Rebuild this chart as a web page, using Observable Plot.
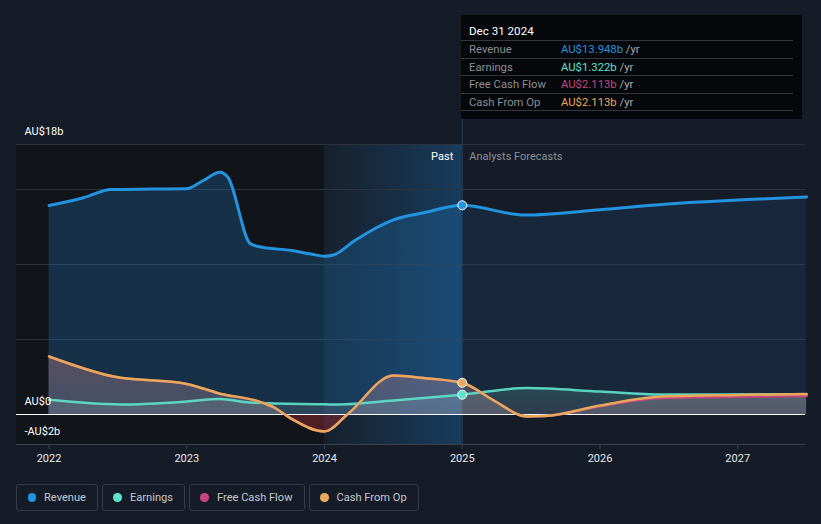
<!DOCTYPE html>
<html>
<head>
<meta charset="utf-8">
<script src="https://cdn.jsdelivr.net/npm/d3@7"></script>
<script src="https://cdn.jsdelivr.net/npm/@observablehq/plot@0.6"></script>
<style>
  html, body { margin: 0; padding: 0; background: #161c27; }
  body { width: 821px; height: 524px; overflow: hidden; font-family: Roboto, "Noto Sans", sans-serif; }
  #wrap { position: relative; width: 821px; height: 524px; }
  #chart { position: absolute; left: 0; top: 0; }
  #tip { position: absolute; left: 461px; top: 15px; width: 341px; height: 104px; background: #05070a; box-sizing: border-box; padding: 0 9px 0 0; }
  #tip .title { color: #fff; font-size: 11.6px; height: 25px; line-height: 32px; border-bottom: 1px solid #33373d; padding-left: 8px; }
  #tip .row { height: 16.6px; line-height: 17.5px; font-size: 11.3px; border-bottom: 1px solid #33373d; display: flex; padding-left: 8px; }
  #tip .lab { color: #8a8f96; width: 92px; }
  #tip .val span { color: #a9adb3; }
  #legend { position: absolute; left: 16px; top: 484px; display: flex; gap: 4px; }
  .item { height: 27px; box-sizing: border-box; border: 1px solid #363c47; border-radius: 3px; display: flex; align-items: center; padding: 0 11px 0 10.5px; color: #c5c8cd; font-size: 11.1px; }
  .dot { width: 8.5px; height: 8.5px; border-radius: 50%; margin-right: 8px; }
</style>
</head>
<body>
<div id="wrap">
  <div id="chart"></div>
  <div id="tip"></div>
  <div id="legend"></div>
</div>
<script>
// ---- data (AU$ billions) ----
const seriesNames = ["Revenue", "Earnings", "Free Cash Flow", "Cash From Op"];
const seriesColors = ["#2394df", "#5ee3cb", "#c8467f", "#e8a95b"];
const tipValues = ["AU$13.948b", "AU$1.322b", "AU$2.113b", "AU$2.113b"];
const tipDate = "Dec 31 2024";

const revenueX = [2022.0, 2022.25, 2022.45, 2022.75, 2023.0, 2023.12, 2023.24, 2023.3, 2023.46, 2023.52, 2023.76, 2023.9, 2024.0, 2024.07, 2024.22, 2024.5, 2024.72, 2025.0, 2025.45, 2026.0, 2026.45, 2027.5];
const revenueY = [13.93, 14.45, 15.0, 15.03, 15.05, 15.6, 16.15, 15.8, 11.4, 11.2, 10.93, 10.7, 10.55, 10.65, 11.6, 12.98, 13.45, 13.948, 13.3, 13.65, 14.0, 14.5];

const earningsX = [2022.0, 2022.52, 2023.0, 2023.24, 2023.46, 2024.0, 2024.1, 2024.5, 2025.0, 2025.47, 2026.0, 2026.45, 2027.5];
const earningsY = [0.98, 0.67, 0.87, 1.04, 0.8, 0.68, 0.66, 0.93, 1.322, 1.76, 1.53, 1.33, 1.35];

const cfoX = [2022.0, 2022.47, 2023.0, 2023.25, 2023.5, 2023.63, 2023.76, 2024.0, 2024.17, 2024.5, 2024.7, 2025.0, 2025.23, 2025.47, 2025.6, 2026.0, 2026.45, 2027.0, 2027.5];
const cfoY = [3.87, 2.53, 2.04, 1.37, 0.93, 0.49, -0.29, -1.13, 0.04, 2.6, 2.45, 2.113, 0.93, -0.13, -0.1, 0.6, 1.2, 1.3, 1.37];

const fcfX = [2022.0, 2022.47, 2023.0, 2023.25, 2023.5, 2023.63, 2023.76, 2024.0, 2024.17, 2024.5, 2024.7, 2025.0, 2025.23, 2025.47, 2025.6, 2026.0, 2026.45, 2027.0, 2027.5];
const fcfY = [3.87, 2.53, 2.04, 1.37, 0.93, 0.49, -0.29, -1.13, 0.04, 2.6, 2.45, 2.113, 0.93, -0.13, -0.1, 0.55, 1.1, 1.18, 1.24];

const yearTicks = [2022, 2023, 2024, 2025, 2026, 2027];
const yTicks = [18, 0, -2];
const yTickLabels = ["AU$18b", "AU$0", "-AU$2b"];
const gridValues = [18, 15, 10, 5];
const pastEnd = 2025.0;
const highlightStart = 2024.0;

// ---- build ----
const toRows = (xs, ys) => xs.map((x, i) => ({x, y: ys[i]}));
const revenue = toRows(revenueX, revenueY);
const earnings = toRows(earningsX, earningsY);
const cfo = toRows(cfoX, cfoY);
const fcf = toRows(fcfX, fcfY);
const revPast = revenue.filter(d => d.x <= pastEnd);
const revFut = revenue.filter(d => d.x >= pastEnd);
const atPast = (rows) => rows.find(d => d.x === pastEnd);

const W = 821, H = 470;
const xDomain = [2021.764, 2027.492];
const curve = "monotone-x";

const chart = Plot.plot({
  width: W, height: H,
  marginLeft: 16, marginRight: 16, marginTop: 144, marginBottom: 26,
  style: {background: "transparent", fontFamily: "Roboto, sans-serif"},
  x: {type: "linear", domain: xDomain, axis: null},
  y: {type: "linear", domain: [-2, 18], axis: null},
  marks: [
    Plot.rect([0], {x1: xDomain[0], x2: highlightStart, y1: -2, y2: 18, fill: "#111419"}),
    Plot.rect([0], {x1: highlightStart, x2: pastEnd, y1: -2, y2: 18, fill: "url(#hl)"}),
    Plot.ruleY(gridValues, {stroke: "#2d343f", strokeWidth: 1}),
    Plot.ruleY([-2], {stroke: "#3a414c", strokeWidth: 1}),
    Plot.ruleX([pastEnd], {y1: -2, y2: 19.67, stroke: "#223f5a", strokeWidth: 1}),
    // areas
    Plot.areaY(revPast, {x: "x", y: "y", curve, fill: "#1f6aa8", fillOpacity: 0.33}),
    Plot.areaY(revFut, {x: "x", y: "y", curve, fill: "#1f5a90", fillOpacity: 0.2}),
    Plot.areaY(fcf, {x: "x", y: "y", curve, fill: "url(#gfcf)"}),
    Plot.areaY(cfo, {x: "x", y: "y", curve, fill: "url(#gcfo)"}),
    Plot.areaY(earnings, {x: "x", y: "y", curve, fill: "url(#gearn)"}),
    Plot.ruleY([0], {stroke: "#ffffff", strokeWidth: 1.2}),
    // lines
    Plot.line(revenue, {x: "x", y: "y", curve, stroke: seriesColors[0], strokeWidth: 3}),
    Plot.line(earnings, {x: "x", y: "y", curve, stroke: seriesColors[1], strokeWidth: 2.5, strokeOpacity: 0.9}),
    Plot.line(fcf, {x: "x", y: "y", curve, stroke: seriesColors[2], strokeWidth: 2.5}),
    Plot.line(cfo, {x: "x", y: "y", curve, stroke: seriesColors[3], strokeWidth: 2.5}),
    // dots at last actual
    Plot.dot([atPast(revenue)], {x: "x", y: "y", r: 4.5, fill: seriesColors[0], stroke: "#fff", strokeWidth: 1}),
    Plot.dot([atPast(cfo)], {x: "x", y: "y", r: 4.5, fill: seriesColors[3], stroke: "#fff", strokeWidth: 1}),
    Plot.dot([atPast(earnings)], {x: "x", y: "y", r: 4.5, fill: seriesColors[1], stroke: "#fff", strokeWidth: 1}),
    // axes
    Plot.ruleX(yearTicks, {x: d => d, y1: -2, y2: -2.33, stroke: "#3a414c"}),
    Plot.text(yearTicks, {x: d => d, y: -2, dy: 14, text: d => String(d), fill: "#e6e8eb", fontSize: 11}),
    Plot.text(yTicks, {x: xDomain[0], y: d => d, text: (d, i) => yTickLabels[i], dx: 8, dy: -13, textAnchor: "start", fill: "#ffffff", fontSize: 11}),
    Plot.text(["Past"], {x: pastEnd, y: 18, dx: -9, dy: 12, text: d => d, textAnchor: "end", fill: "#ffffff", fontSize: 11}),
    Plot.text(["Analysts Forecasts"], {x: pastEnd, y: 18, dx: 7, dy: 12, text: d => d, textAnchor: "start", fill: "#8a8f96", fontSize: 11})
  ]
});

// gradients
const defs = d3.select(chart).insert("defs", ":first-child");
const addGrad = (id, attrs, stops) => {
  const g = defs.append("linearGradient").attr("id", id);
  Object.entries(attrs).forEach(([k, v]) => g.attr(k, v));
  stops.forEach(([o, c, op]) => g.append("stop").attr("offset", o).attr("stop-color", c).attr("stop-opacity", op));
};
addGrad("hl", {x1: 0, x2: 1, y1: 0, y2: 0}, [[0, "#1b5c8f", 0.08], [1, "#1b6aa8", 0.42]]);
const y0px = 414, yTop = 144, yBot = 444;
const zOff = (y0px - yTop) / (yBot - yTop);
addGrad("gcfo", {gradientUnits: "userSpaceOnUse", x1: 0, x2: 0, y1: yTop, y2: yBot},
  [[0.6, "#d9746a", 0.35], [zOff, "#b8b8c4", 0.22], [zOff, "#c0303a", 0.35], [1, "#c0303a", 0.35]]);
addGrad("gfcf", {gradientUnits: "userSpaceOnUse", x1: 0, x2: 0, y1: yTop, y2: yBot},
  [[0.6, "#c8467f", 0.12], [zOff, "#c8467f", 0.06], [zOff, "#c0303a", 0.0], [1, "#c0303a", 0.0]]);
addGrad("gearn", {gradientUnits: "userSpaceOnUse", x1: 0, x2: 0, y1: yTop, y2: yBot},
  [[0.8, "#5ee3cb", 0.18], [zOff, "#d0d0d8", 0.12], [zOff, "#5ee3cb", 0], [1, "#5ee3cb", 0]]);

document.getElementById("chart").appendChild(chart);

// tooltip
const tip = document.getElementById("tip");
let html = `<div class="title">${tipDate}</div>`;
seriesNames.forEach((n, i) => {
  html += `<div class="row"><div class="lab">${n}</div><div class="val" style="color:${seriesColors[i]}">${tipValues[i]} <span>/yr</span></div></div>`;
});
tip.innerHTML = html;

// legend
const legend = document.getElementById("legend");
seriesNames.forEach((n, i) => {
  const it = document.createElement("div");
  it.className = "item";
  it.innerHTML = `<div class="dot" style="background:${seriesColors[i]}"></div>${n}`;
  legend.appendChild(it);
});
</script>
</body>
</html>
